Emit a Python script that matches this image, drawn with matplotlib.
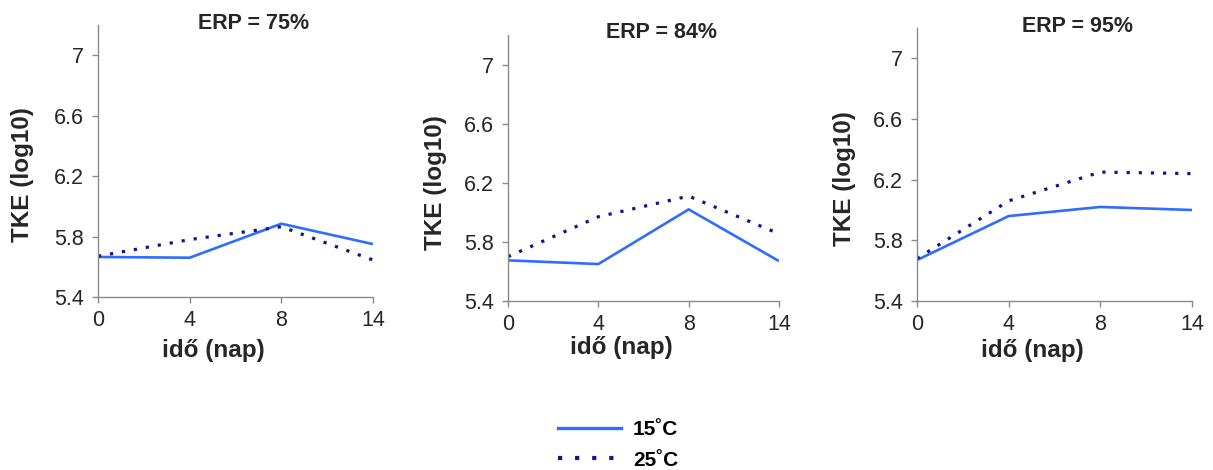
import matplotlib
matplotlib.use("Agg")
import matplotlib.pyplot as plt
from matplotlib.lines import Line2D
import numpy as np

plt.rcParams["font.family"] = ["Liberation Sans", "DejaVu Sans"]

days = ["0", "4", "8", "14"]
titles = ["ERP = 75%", "ERP = 84%", "ERP = 95%"]
tke_15 = [
    [5.665, 5.66, 5.885, 5.75],
    [5.675, 5.65, 6.02, 5.67],
    [5.67, 5.96, 6.02, 6.00],
]
tke_25 = [
    [5.67, 5.78, 5.865, 5.645],
    [5.70, 5.97, 6.11, 5.855],
    [5.68, 6.06, 6.25, 6.24],
]
series_labels = ["15˚C", "25˚C"]
yticks = [5.4, 5.8, 6.2, 6.6, 7.0]
ytick_labels = ["5.4", "5.8", "6.2", "6.6", "7"]

C_15 = "#2f6cff"
C_25 = "#14148a"
C_AX = "#8a8a8a"
C_TXT = "#262626"

W, H = 1213, 470
# axes boxes in pixels: left, top, right, bottom
boxes = [(98, 25, 373, 297), (508, 35, 779, 301), (917, 28, 1192, 301)]
title_pos = [(0.564, 1.007), (0.568, 1.011), (0.582, 1.004)]
xlab_pos = [(0.42, -0.195), (0.42, -0.175), (0.42, -0.18)]
ylab_pos = [(-0.276, 0.449), (-0.269, 0.444), (-0.265, 0.45)]

fig = plt.figure(figsize=(W / 100, H / 100), dpi=100)
x = np.arange(len(days))

for i, (l, t, r, b) in enumerate(boxes):
    ax = fig.add_axes([l / W, 1 - b / H, (r - l) / W, (b - t) / H])
    ax.plot(x, tke_15[i], color=C_15, lw=1.9, solid_capstyle="butt")
    ax.plot(x, tke_25[i], color=C_25, lw=2.3, linestyle=(0, (1, 2.8)))
    ax.set_xlim(0, 3)
    ax.set_ylim(5.4, 7.2)
    ax.set_xticks(x)
    ax.set_xticklabels(days)
    ax.set_yticks(yticks)
    ax.set_yticklabels(ytick_labels)
    for s in ("top", "right"):
        ax.spines[s].set_visible(False)
    for s in ("left", "bottom"):
        ax.spines[s].set_color(C_AX)
        ax.spines[s].set_linewidth(1.0)
    ax.tick_params(axis="both", colors=C_AX, labelcolor=C_TXT, labelsize=15.5,
                   length=4, width=1.0, direction="out")
    ax.tick_params(axis="y", pad=6)
    ax.tick_params(axis="x", pad=5)

    ax.text(*title_pos[i], titles[i], transform=ax.transAxes, ha="center",
            va="center", fontsize=15.5, fontweight="bold", color=C_TXT)
    ax.set_xlabel("idő (nap)", fontsize=17.5, fontweight="bold", color=C_TXT,
                  va="center")
    ax.xaxis.set_label_coords(*xlab_pos[i])
    ax.set_ylabel("TKE (log10)", fontsize=17.5, fontweight="bold", color=C_TXT,
                  va="center")
    ax.yaxis.set_label_coords(*ylab_pos[i])

handles = [
    Line2D([], [], color=C_15, lw=2.4),
    Line2D([], [], color=C_25, lw=3.0, linestyle=(0, (1, 3.1))),
]
fig.legend(handles, series_labels, loc="center left",
           bbox_to_anchor=(558 / W, 1 - 445 / H), frameon=False,
           prop={"weight": "bold", "size": 15},
           handlelength=3.0, handletextpad=0.6, labelspacing=0.55,
           borderpad=0, borderaxespad=0)

fig.savefig("out.png", dpi=100)
